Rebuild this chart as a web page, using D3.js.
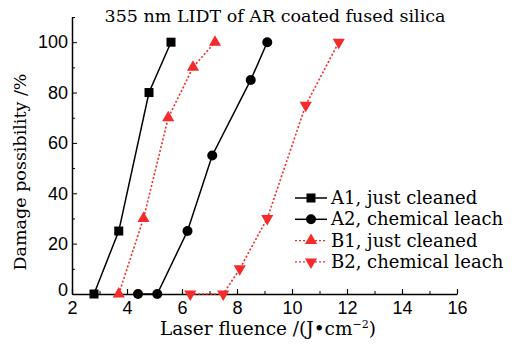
<!DOCTYPE html>
<html>
<head>
<meta charset="utf-8">
<script src="https://cdn.jsdelivr.net/npm/d3@7"></script>
<style>
  body { margin: 0; background: #fff; }
  svg { font-family: "DejaVu Serif", serif; }
</style>
</head>
<body>
<div id="chart"></div>
<script>
(function(){

const width = 520;
const height = 345;
const margin = {top: 17, right: 63, bottom: 51, left: 72};

// data
const a1X = [2.8, 3.7, 4.8, 5.6];
const a1Y = [0, 25, 80, 100];
const a2X = [4.4, 5.1, 6.2, 7.1, 8.5, 9.1];
const a2Y = [0, 0, 25, 55, 85, 100];
const b1X = [3.7, 4.6, 5.5, 6.4, 7.2];
const b1Y = [0, 30, 70, 90, 100];
const b2X = [6.3, 7.5, 8.1, 9.1, 10.5, 11.7];
const b2Y = [0, 0, 10, 30, 75, 100];

const seriesNames = ["A1, just cleaned", "A2, chemical leach", "B1, just cleaned", "B2, chemical leach"];
const xTicks = [2, 4, 6, 8, 10, 12, 14, 16];
const yTicks = [0, 20, 40, 60, 80, 100];

const red = "#f52a2a";
const series = [
  {name: seriesNames[0], xs: a1X, ys: a1Y, color: "#000", dash: null, shape: "square"},
  {name: seriesNames[1], xs: a2X, ys: a2Y, color: "#000", dash: null, shape: "circle"},
  {name: seriesNames[2], xs: b1X, ys: b1Y, color: red, dash: "2,2", shape: "up"},
  {name: seriesNames[3], xs: b2X, ys: b2Y, color: red, dash: "2,2", shape: "down"}
];

const svg = d3.select("#chart")
  .append("svg")
  .attr("width", width)
  .attr("height", height);

const x = d3.scaleLinear()
  .domain([2, 16])
  .range([margin.left, width - margin.right]);

const y = d3.scaleLinear()
  .domain([0, 110])
  .range([height - margin.bottom, margin.top]);

// X axis (ticks inward)
svg.append("g")
  .attr("transform", `translate(0,${y(0)})`)
  .call(d3.axisBottom(x).tickValues(d3.range(3, 16, 2)).tickSize(-3).tickFormat(""))
  .call(g => g.select(".domain").remove());
const xMajor = svg.append("g")
  .attr("transform", `translate(0,${y(0)})`)
  .call(d3.axisBottom(x).tickValues(xTicks).tickSize(-5).tickSizeOuter(0).tickPadding(6));
xMajor.selectAll("text").style("font-size", "18px").attr("fill", "#000").attr("dy", "0.75em");
xMajor.selectAll("line").attr("stroke-width", 1.2);
xMajor.select(".domain").attr("stroke-width", 1.5);

// Y axis (ticks inward)
svg.append("g")
  .attr("transform", `translate(${x(2)},0)`)
  .call(d3.axisLeft(y).tickValues(d3.range(10, 111, 20)).tickSize(-3).tickFormat(""))
  .call(g => g.select(".domain").remove());
const yMajor = svg.append("g")
  .attr("transform", `translate(${x(2)},0)`)
  .call(d3.axisLeft(y).tickValues(yTicks).tickSize(-5).tickSizeOuter(0).tickPadding(4));
yMajor.selectAll("text").style("font-size", "18px").attr("fill", "#000");
yMajor.select(".domain").attr("stroke-width", 1.5);
yMajor.selectAll(".tick text").filter(d => d === 0).attr("dy", "0.1em");

svg.selectAll(".tick line").attr("stroke", "#000");

// title
svg.append("text")
  .attr("x", 275)
  .attr("y", 22)
  .attr("text-anchor", "middle")
  .style("font-size", "17.5px")
  .text("355 nm LIDT of AR coated fused silica");

// axis labels
const xl = svg.append("text")
  .attr("x", 268)
  .attr("y", 335)
  .attr("text-anchor", "middle")
  .style("font-size", "18.5px")
  .text("Laser fluence /(J\u2022cm");
xl.append("tspan").attr("dy", -7).style("font-size", "11px").text("\u22122");
xl.append("tspan").attr("dy", 7).text(")");

svg.append("text")
  .attr("transform", "rotate(-90)")
  .attr("x", -172)
  .attr("y", 26)
  .attr("text-anchor", "middle")
  .style("font-size", "17.5px")
  .text("Damage possibility /%");

// marker drawing
function marker(g, shape, color) {
  if (shape === "square") {
    g.append("rect").attr("x", -4.5).attr("y", -4.5).attr("width", 9).attr("height", 9).attr("fill", color);
  } else if (shape === "circle") {
    g.append("circle").attr("r", 5).attr("fill", color);
  } else {
    const s = d3.symbol().type(d3.symbolTriangle).size(64);
    g.append("path").attr("d", s()).attr("fill", color)
      .attr("transform", shape === "down" ? "rotate(180)" : null);
  }
}

const line = d3.line()
  .x(d => x(d[0]))
  .y(d => y(d[1]));

series.forEach(s => {
  const pts = s.xs.map((v, i) => [v, s.ys[i]]);
  svg.append("path")
    .datum(pts)
    .attr("fill", "none")
    .attr("stroke", s.color)
    .attr("stroke-width", s.dash ? 1.6 : 1.5)
    .attr("stroke-dasharray", s.dash)
    .attr("d", line);
  pts.forEach(p => {
    const g = svg.append("g").attr("transform", `translate(${x(p[0])},${y(p[1])})`);
    marker(g, s.shape, s.color);
  });
});

// legend
const legend = svg.append("g")
  .attr("transform", "translate(295,198)");
series.forEach((s, i) => {
  const row = legend.append("g").attr("transform", `translate(0,${i * 21.3})`);
  row.append("line")
    .attr("x1", 0).attr("x2", 32)
    .attr("stroke", s.color)
    .attr("stroke-width", s.dash ? 1.3 : 1.5)
    .attr("stroke-dasharray", s.dash);
  const m = row.append("g").attr("transform", "translate(16,0)");
  marker(m, s.shape, s.color);
  row.append("text")
    .attr("x", 36)
    .attr("y", 6)
    .style("font-size", "18px")
    .text(s.name);
});

})();
</script>
</body>
</html>
